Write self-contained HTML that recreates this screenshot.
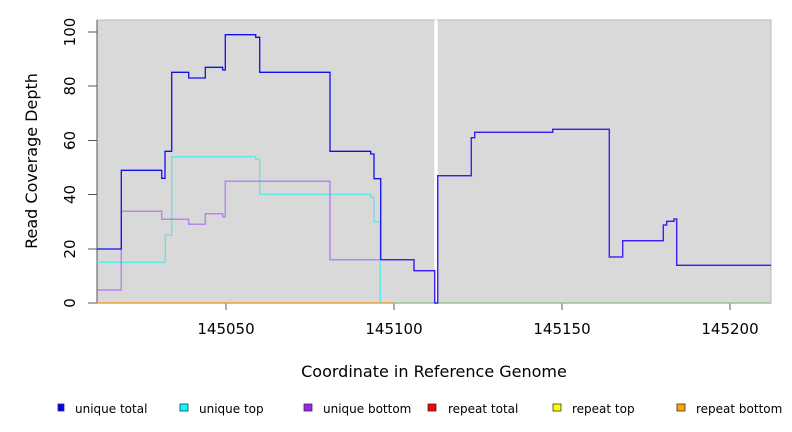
<!DOCTYPE html>
<html><head><meta charset="utf-8"><style>
html,body{margin:0;padding:0;background:#fff;}
svg{display:block;font-family:"DejaVu Sans","Liberation Sans",sans-serif;}
</style></head><body>
<svg width="792" height="432" viewBox="0 0 792 432" xmlns="http://www.w3.org/2000/svg">
<rect x="97" y="20" width="674" height="283" fill="#d9d9d9" stroke="#bbb" stroke-width="1"/>
<rect x="434.3" y="20" width="3.4" height="283" fill="#ffffff"/>
<line x1="97" y1="20" x2="97" y2="303" stroke="#555" stroke-width="1"/>
<g stroke="#555" stroke-width="1">
<line x1="88" y1="32" x2="97" y2="32"/><line x1="88" y1="86" x2="97" y2="86"/><line x1="88" y1="140.5" x2="97" y2="140.5"/>
<line x1="88" y1="194.5" x2="97" y2="194.5"/><line x1="88" y1="249" x2="97" y2="249"/><line x1="88" y1="303" x2="97" y2="303"/>
<line x1="226" y1="303" x2="226" y2="310"/><line x1="394" y1="303" x2="394" y2="310"/><line x1="562" y1="303" x2="562" y2="310"/><line x1="730" y1="303" x2="730" y2="310"/>
</g>
<g font-size="15" fill="#000" text-anchor="middle">
<text transform="translate(75,32) rotate(-90)">100</text>
<text transform="translate(75,86) rotate(-90)">80</text>
<text transform="translate(75,140.5) rotate(-90)">60</text>
<text transform="translate(75,194.5) rotate(-90)">40</text>
<text transform="translate(75,249) rotate(-90)">20</text>
<text transform="translate(75,303) rotate(-90)">0</text>
<text x="226" y="334">145050</text><text x="394" y="334">145100</text><text x="562" y="334">145150</text><text x="730" y="334">145200</text>
<text transform="translate(37,161) rotate(-90)" font-size="16">Read Coverage Depth</text>
<text x="434" y="377" font-size="16">Coordinate in Reference Genome</text>
</g>
<line x1="97" y1="303" x2="394" y2="303" stroke="#f0a030" stroke-width="1.5"/>
<line x1="394" y1="303" x2="771" y2="303" stroke="#90c890" stroke-width="1.5"/>
<polyline fill="none" stroke="#40e8e8" stroke-width="1.3" opacity="0.8" points="97,262.3 165.3,262.3 165.3,235.3 171.7,235.3 171.7,156.7 255.7,156.7 255.7,159.3 259.7,159.3 259.7,194.3 370.7,194.3 370.7,197.3 374,197.3 374,222 380.3,222 380.3,303"/>
<polyline fill="none" stroke="#b070f0" stroke-width="1.5" opacity="0.8" points="97,290 121.3,290 121.3,211.3 161.7,211.3 161.7,219.3 188.7,219.3 188.7,224.3 205.3,224.3 205.3,213.7 222.7,213.7 222.7,216.7 225.3,216.7 225.3,181.3 330,181.3 330,259.7 414,259.7 414,270.7 434.7,270.7 434.7,303 437.7,303 437.7,175.7 471.3,175.7 471.3,137.7 474.7,137.7 474.7,132.3 552.7,132.3 552.7,129.3 609.3,129.3 609.3,257 622.7,257 622.7,240.7 663.3,240.7 663.3,225 666.7,225 666.7,221.3 674,221.3 674,219 676.7,219 676.7,265.3 771,265.3"/>
<polyline fill="none" stroke="#1010ee" stroke-width="1.3" points="97,249 121.3,249 121.3,170.3 161.7,170.3 161.7,178.3 165,178.3 165,151.3 171.7,151.3 171.7,72.3 188.7,72.3 188.7,78 205.3,78 205.3,67.3 222.7,67.3 222.7,70 225.3,70 225.3,34.7 255.7,34.7 255.7,37.3 259.7,37.3 259.7,72.3 330,72.3 330,151.3 370.7,151.3 370.7,154 374,154 374,178.7 380.7,178.7 380.7,259.7"/>
<polyline fill="none" stroke="#3a1cf0" stroke-width="1.3" points="380.7,259.7 414,259.7 414,270.7 434.7,270.7 434.7,303 437.7,303 437.7,175.7 471.3,175.7 471.3,137.7 474.7,137.7 474.7,132.3 552.7,132.3 552.7,129.3 609.3,129.3 609.3,257 622.7,257 622.7,240.7 663.3,240.7 663.3,225 666.7,225 666.7,221.3 674,221.3 674,219 676.7,219 676.7,265.3 771,265.3"/>
<g stroke="#333" stroke-width="0.8">
<rect x="58" y="404" width="6" height="7" fill="#0000ff"/>
<rect x="180" y="404" width="8" height="7" fill="#00ffff"/>
<rect x="304" y="404" width="8" height="7" fill="#a020f0"/>
<rect x="428" y="404" width="8" height="7" fill="#ff0000"/>
<rect x="553" y="404" width="8" height="7" fill="#ffff00"/>
<rect x="677" y="404" width="8" height="7" fill="#ffa500"/>
</g>
<g font-size="12" fill="#000">
<text x="75" y="413">unique total</text>
<text x="199" y="413">unique top</text>
<text x="323" y="413">unique bottom</text>
<text x="448" y="413">repeat total</text>
<text x="572" y="413">repeat top</text>
<text x="696" y="413">repeat bottom</text>
</g>
</svg>
</body></html>
